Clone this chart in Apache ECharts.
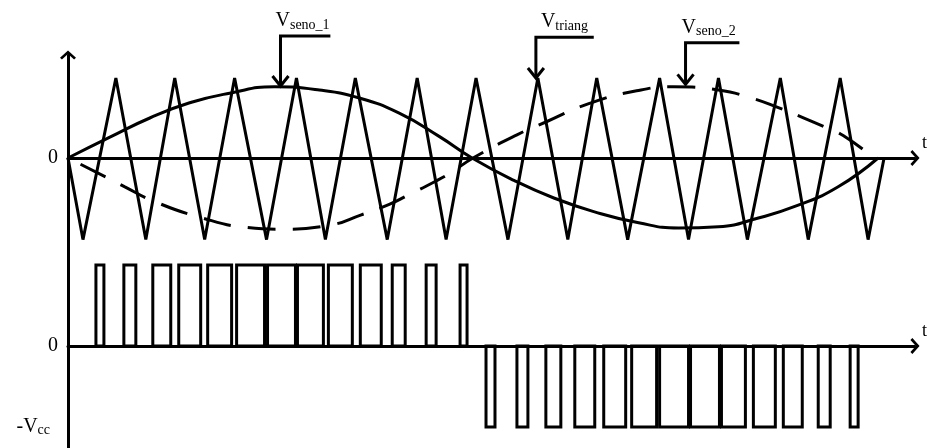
<!DOCTYPE html>
<html><head><meta charset="utf-8">
<script src="https://cdn.jsdelivr.net/npm/echarts@6/dist/echarts.min.js"></script>
<style>html,body{margin:0;padding:0;background:#fff}#c{width:928px;height:448px}</style>
</head><body><div id="c"></div>
<script>
// ---- data (x in time units, y in normalised volts) ----
const triX = [0, 15, 48, 78, 107, 137, 167, 199, 229, 258, 288, 320, 350, 379, 409, 441, 471, 501, 530, 561, 593, 622, 652, 681, 714, 742, 774, 802, 818];
const triV = [0, -1.02, 1, -1.02, 1, -1.02, 1, -1.02, 1, -1.02, 1, -1.02, 1, -1.02, 1, -1.02, 1, -1.02, 1, -1.02, 1, -1.02, 1, -1.02, 1, -1.02, 1, -1.02, 0];

const sine1X = [0, 42, 82, 122, 162, 207, 252, 292, 332, 372, 405, 447, 487, 527, 572, 612, 652, 692, 732, 772, 812];
const sine1V = [0, 0.26, 0.5, 0.69, 0.81, 0.89, 0.85, 0.75, 0.56, 0.27, 0, -0.28, -0.5, -0.67, -0.81, -0.875, -0.86, -0.75, -0.59, -0.36, 0];

const sine2X = [0, 40, 57, 84, 132, 180, 212, 262, 294, 322, 340, 367, 384, 406, 450, 479, 522, 570, 607, 652, 685, 714, 732, 760, 777, 808];
const sine2V = [0, -0.25, -0.36, -0.53, -0.74, -0.87, -0.89, -0.84, -0.71, -0.58, -0.47, -0.3, -0.18, 0, 0.29, 0.45, 0.68, 0.84, 0.89, 0.85, 0.75, 0.62, 0.53, 0.38, 0.28, 0];

const vcc = 1;
const posRise = [28, 56, 85, 111, 140, 169, 200, 230, 261, 293, 325, 359, 393];
const posFall = [36, 68, 103, 133, 164, 197, 228, 256, 285, 314, 338, 369, 400];
const negRise = [419, 450, 479, 508, 537, 565, 593, 624, 655, 687, 717, 752, 784];
const negFall = [428, 461, 494, 528, 559, 590, 622, 653, 679, 709, 736, 764, 792];

const calloutNames = ['seno_1', 'triang', 'seno_2'];
const calloutTipX = [213, 469, 619];
const calloutTipY = [0.9, 1.0, 0.92];
const calloutTopY = [1.525, 1.51, 1.44];
const calloutEndX = [263, 527, 673];
const calloutTextDx = [-5, 5, -4];

const topTicks = [0];
const bottomTicks = [0, -vcc];

// ---- build ----
const pulses = [];
posRise.forEach((r, i) => pulses.push([r, posFall[i], vcc]));
negRise.forEach((r, i) => pulses.push([r, negFall[i], -vcc]));

const zip = (xs, ys) => xs.map((x, i) => [x, ys[i]]);
const FONT = 'Liberation Serif';
const chevron = 'path://M10,0 L20,9 L17.6,11.4 L10,4.6 L2.4,11.4 L0,9 Z';
const black = '#000';

const xAxisBase = (gi) => ({
  type: 'value', gridIndex: gi, min: 0, max: 849,
  axisLine: { onZero: true, lineStyle: { color: black, width: 3 }, symbol: ['none', chevron], symbolSize: [16, 10] },
  axisTick: { show: false }, axisLabel: { show: false }, splitLine: { show: false },
  name: 't', nameLocation: 'end', nameGap: 7,
  nameTextStyle: { fontFamily: FONT, fontSize: 18, color: black, align: 'left', verticalAlign: 'bottom', padding: [0, 0, 6, 0] }
});

const option = {
  animation: false,
  backgroundColor: '#fff',
  grid: [
    { left: 68, right: 11, top: 55, height: 195 },
    { left: 68, right: 11, top: 250, bottom: 0 }
  ],
  xAxis: [xAxisBase(0), xAxisBase(1)],
  yAxis: [
    { type: 'value', gridIndex: 0, min: -1.15, max: 1.2875,
      axisLine: { onZero: false, lineStyle: { color: black, width: 3 }, symbol: ['none', chevron], symbolSize: [16, 10] },
      axisTick: { show: false }, splitLine: { show: false },
      axisLabel: { customValues: topTicks, margin: 10, fontFamily: FONT, fontSize: 20, color: black, formatter: () => '0' } },
    { type: 'value', gridIndex: 1, min: -1.26, max: 1.185,
      axisLine: { onZero: false, lineStyle: { color: black, width: 3 } },
      axisTick: { show: false }, splitLine: { show: false },
      axisLabel: { customValues: bottomTicks, margin: 10, fontFamily: FONT, fontSize: 20, color: black,
        formatter: (v) => v === 0 ? '0' : '{a|-V}{b|cc}',
        rich: { a: { fontFamily: FONT, fontSize: 20, color: black }, b: { fontFamily: FONT, fontSize: 14, color: black, verticalAlign: 'bottom', padding: [0, 8, 0, 0] } } } }
  ],
  series: [
    { type: 'line', xAxisIndex: 0, yAxisIndex: 0, data: zip(triX, triV), symbol: 'none', clip: false,
      lineStyle: { color: black, width: 3 } },
    { type: 'line', xAxisIndex: 0, yAxisIndex: 0, data: zip(sine1X, sine1V), symbol: 'none', smooth: true,
      lineStyle: { color: black, width: 3 } },
    { type: 'line', xAxisIndex: 0, yAxisIndex: 0, data: zip(sine2X, sine2V), symbol: 'none', smooth: true,
      lineStyle: { color: black, width: 3, type: [28, 17], dashOffset: 31 } },
    { type: 'custom', xAxisIndex: 0, yAxisIndex: 0, clip: false,
      data: calloutNames.map((n, i) => [calloutTipX[i], calloutTipY[i], calloutTopY[i], calloutEndX[i]]),
      renderItem: (params, api) => {
        const i = params.dataIndex;
        const tip = api.coord([api.value(0), api.value(1)]);
        const corner = api.coord([api.value(0), api.value(2)]);
        const end = api.coord([api.value(3), api.value(2)]);
        return { type: 'group', children: [
          { type: 'polyline', shape: { points: [end, corner, tip] }, style: { stroke: black, lineWidth: 3, fill: null, lineJoin: 'miter' } },
          { type: 'polyline', shape: { points: [[tip[0] - 8, tip[1] - 10], tip, [tip[0] + 8, tip[1] - 10]] }, style: { stroke: black, lineWidth: 3, fill: null } },
          { type: 'text', x: corner[0] + calloutTextDx[i], y: corner[1] - 4,
            style: { text: '{v|V}{s|' + calloutNames[i] + '}', align: 'left', verticalAlign: 'bottom',
              rich: { v: { fontFamily: FONT, fontSize: 20, fill: black, lineHeight: 22 },
                      s: { fontFamily: FONT, fontSize: 14, fill: black, lineHeight: 14, verticalAlign: 'bottom' } } } }
        ] };
      } },
    { type: 'custom', xAxisIndex: 1, yAxisIndex: 1, clip: false, data: pulses,
      renderItem: (params, api) => {
        const p0 = api.coord([api.value(0), 0]);
        const p1 = api.coord([api.value(1), api.value(2)]);
        return { type: 'rect',
          shape: { x: Math.min(p0[0], p1[0]), y: Math.min(p0[1], p1[1]), width: Math.abs(p1[0] - p0[0]), height: Math.abs(p1[1] - p0[1]) },
          style: { stroke: black, lineWidth: 3, fill: null, lineJoin: 'miter' } };
      } }
  ]
};
const chart = echarts.init(document.getElementById('c'));
chart.setOption(option);
</script></body></html>
